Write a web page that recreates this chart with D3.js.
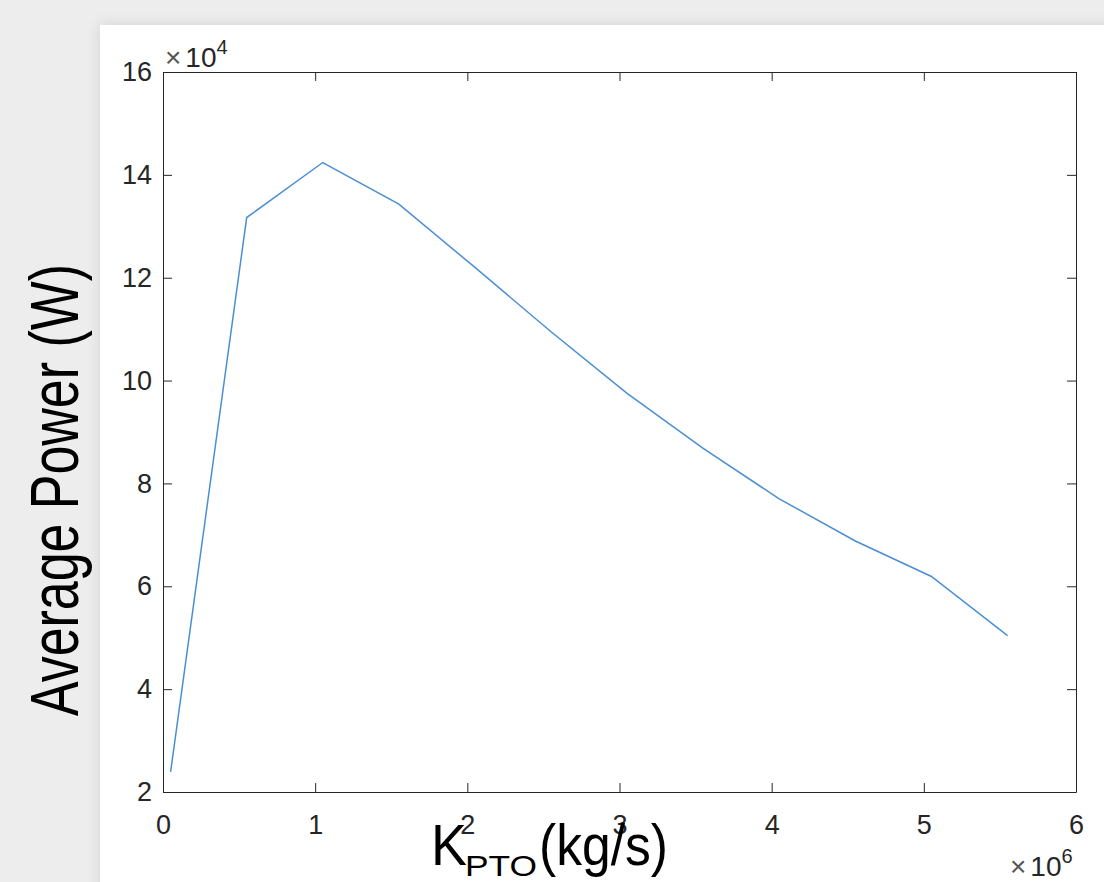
<!DOCTYPE html>
<html lang="en">
<head>
  <meta charset="UTF-8">
  <title>Average Power vs K_PTO</title>
  <script src="https://d3js.org/d3.v7.min.js"></script>
  <style>
    body {
      margin: 0;
      background-color: #ededed;
      font-family: "Liberation Sans", Arial, sans-serif;
    }
    svg { display: block; }
    .tick text { fill: #262626; }
    .axis path, .axis line { stroke: #262626; }
  </style>
</head>
<body>
<div id="chart"></div>

<script>
// K_PTO (kg/s) and average power (W)
const kpto = [0.05e6, 0.55e6, 1.05e6, 1.55e6, 2.05e6, 2.55e6, 3.05e6, 3.55e6, 4.05e6, 4.55e6, 5.05e6, 5.55e6];
const power = [2.39e4, 13.17e4, 14.24e4, 13.43e4, 12.2e4, 10.95e4, 9.75e4, 8.68e4, 7.7e4, 6.88e4, 6.19e4, 5.04e4];

const xTicks = [0, 1e6, 2e6, 3e6, 4e6, 5e6, 6e6];
const yTicks = [2e4, 4e4, 6e4, 8e4, 10e4, 12e4, 14e4, 16e4];

const W = 1104, H = 882;
const plotL = 163, plotR = 1076, plotT = 72, plotB = 792;

const svg = d3.select("#chart")
    .append("svg")
    .attr("width", W)
    .attr("height", H);

// figure panel with soft shadow
const defs = svg.append("defs");
const shadow = defs.append("filter").attr("id", "shadow")
    .attr("x", "-10%").attr("y", "-10%").attr("width", "120%").attr("height", "120%");
shadow.append("feDropShadow")
    .attr("dx", 0).attr("dy", 0)
    .attr("stdDeviation", 7)
    .attr("flood-color", "#000")
    .attr("flood-opacity", 0.12);

svg.append("rect")
    .attr("x", 100).attr("y", 25)
    .attr("width", W).attr("height", H)
    .attr("fill", "#fff")
    .attr("filter", "url(#shadow)");

const x = d3.scaleLinear().domain([0, 6e6]).range([plotL, plotR]);
const y = d3.scaleLinear().domain([2e4, 16e4]).range([plotB, plotT]);

// axes, ticks pointing inward like MATLAB
svg.append("g")
    .attr("class", "axis")
    .attr("transform", `translate(0,${plotB})`)
    .call(d3.axisBottom(x).tickValues(xTicks).tickFormat(d => d / 1e6)
        .tickSizeInner(-9).tickSizeOuter(0).tickPadding(23))
    .call(g => g.selectAll("text").attr("font-size", 27).attr("font-family", "Liberation Sans, Arial, sans-serif"));

svg.append("g")
    .attr("class", "axis")
    .attr("transform", `translate(${plotL},0)`)
    .call(d3.axisLeft(y).tickValues(yTicks).tickFormat(d => d / 1e4)
        .tickSizeInner(-9).tickSizeOuter(0).tickPadding(11))
    .call(g => g.selectAll("text").attr("font-size", 27).attr("font-family", "Liberation Sans, Arial, sans-serif"));

svg.append("g")
    .attr("class", "axis")
    .attr("transform", `translate(0,${plotT})`)
    .call(d3.axisTop(x).tickValues(xTicks).tickFormat("")
        .tickSizeInner(-9).tickSizeOuter(0));

svg.append("g")
    .attr("class", "axis")
    .attr("transform", `translate(${plotR},0)`)
    .call(d3.axisRight(y).tickValues(yTicks).tickFormat("")
        .tickSizeInner(-9).tickSizeOuter(0));

// data line
const line = d3.line()
    .x((d, i) => x(kpto[i]))
    .y(d => y(d));

svg.append("path")
    .datum(power)
    .attr("d", line)
    .attr("fill", "none")
    .attr("stroke", "#4a8fd4")
    .attr("stroke-width", 1.5);

// exponent labels
const exp4 = svg.append("text")
    .attr("x", 165).attr("y", 67)
    .attr("font-size", 28)
    .attr("fill", "#262626");
exp4.append("tspan").attr("fill", "#555").text("\u00d7");
exp4.append("tspan").attr("dx", 4).text("10");
exp4.append("tspan").attr("dy", -13).attr("font-size", 20).text("4");

const exp6 = svg.append("text")
    .attr("x", 1010).attr("y", 876)
    .attr("font-size", 28)
    .attr("fill", "#262626");
exp6.append("tspan").attr("fill", "#555").text("\u00d7");
exp6.append("tspan").attr("dx", 4).text("10");
exp6.append("tspan").attr("dy", -13).attr("font-size", 20).text("6");

// x axis label: K_PTO(kg/s)
const xl = svg.append("g").attr("fill", "#000");
xl.append("text")
    .attr("x", 431).attr("y", 865)
    .attr("font-size", 58)
    .attr("textLength", 36).attr("lengthAdjust", "spacingAndGlyphs")
    .text("K");
xl.append("text")
    .attr("x", 465).attr("y", 876)
    .attr("font-size", 29)
    .attr("textLength", 72).attr("lengthAdjust", "spacingAndGlyphs")
    .text("PTO");
xl.append("text")
    .attr("x", 539).attr("y", 865)
    .attr("font-size", 58)
    .attr("textLength", 129).attr("lengthAdjust", "spacingAndGlyphs")
    .text("(kg/s)");

// y axis label
svg.append("text")
    .attr("transform", "translate(78,490) rotate(-90)")
    .attr("text-anchor", "middle")
    .attr("font-size", 68)
    .attr("fill", "#000")
    .attr("textLength", 452).attr("lengthAdjust", "spacingAndGlyphs")
    .text("Average Power (W)");
</script>
</body>
</html>
